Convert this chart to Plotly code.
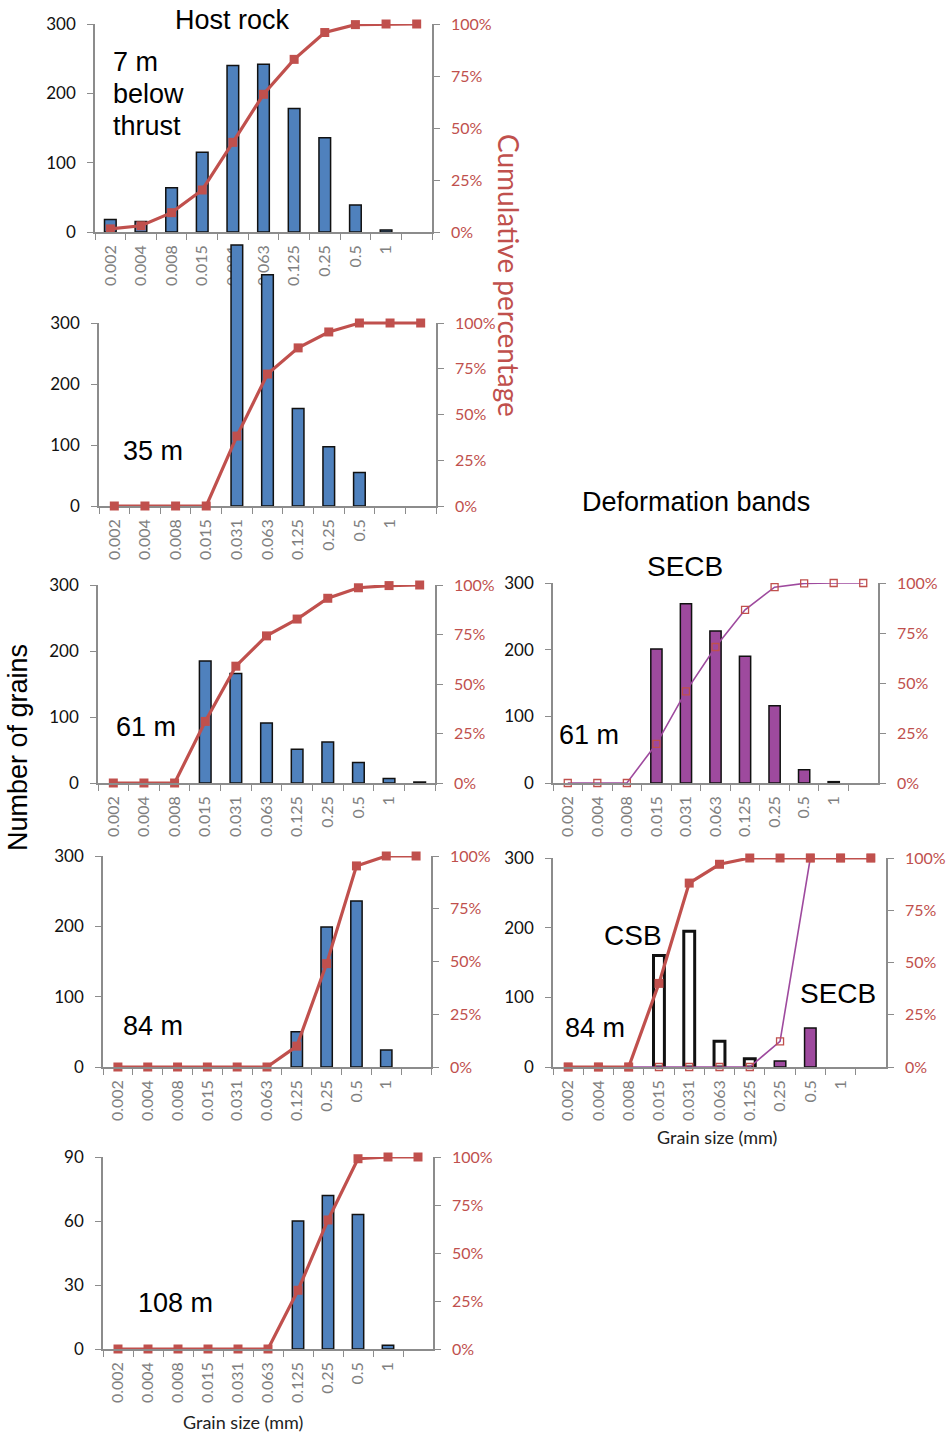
import plotly.graph_objects as go

W, H = 950, 1433

# ---------------- data ----------------
categories = ["0.002", "0.004", "0.008", "0.015", "0.031", "0.063",
              "0.125", "0.25", "0.5", "1", " "]

# Host rock: number of grains per size class
host_7m = [18, 15, 64, 115, 240, 242, 178, 136, 39, 3, None]
host_35m = [None, None, None, None, 428, 379, 160, 97, 55, None, None]
host_61m = [None, None, None, 185, 166, 91, 51, 62, 31, 7, 1.5]
host_84m = [None, None, None, None, None, None, 50, 199, 236, 24, None]
host_108m = [None, None, None, None, None, None, 60, 72, 63, 1.7, None]

# Host rock: cumulative percentage
host_7m_cum = [1.5, 3.0, 9.3, 20.2, 43.1, 66.2, 83.0, 95.9, 99.7, 100, 100]
host_35m_cum = [0, 0, 0, 0, 38.2, 72.1, 86.4, 95.1, 100, 100, 100]
host_61m_cum = [0, 0, 0, 31.1, 59.0, 74.3, 82.8, 93.3, 98.6, 99.7, 100]
host_84m_cum = [0, 0, 0, 0, 0, 0, 9.9, 49.0, 95.3, 100, 100]
host_108m_cum = [0, 0, 0, 0, 0, 0, 30.6, 67.2, 99.1, 100, 100]

# Deformation bands
secb_61m = [None, None, None, 201, 269, 228, 190, 116, 20, 2, None]
secb_61m_cum = [0, 0, 0, 19.6, 45.8, 68.0, 86.6, 97.9, 99.8, 100, 100]
csb_84m = [None, None, None, 160, 195, 37, 12, None, None, None, None]
csb_84m_cum = [0, 0, 0, 40, 88, 97, 100, 100, 100, 100, 100]
secb_84m = [None, None, None, None, None, None, None, 8.6, 56, None, None]
secb_84m_cum = [0, 0, 0, 0, 0, 0, 0, 12.3, 100, 100, 100]

pct_vals = [0, 25, 50, 75, 100]
pct_text = ["0%", "25%", "50%", "75%", "100%"]

# ---------------- style ----------------
BLUE = "#4F81BD"
PURPLE = "#9E4A9E"
RED = "#C0504D"
AXIS = "#8C8C8C"
XLAB = "#808080"
TXT_FONT = "Liberation Sans, Arial, sans-serif"
TICK_FONT = "Lato, Open Sans, sans-serif"

# panel plot areas in pixels: (left, right, top, bottom)
panels = [
    dict(box=(95, 432, 24, 232), ymax=300, dtick=100),
    dict(box=(99, 436, 323, 506), ymax=300, dtick=100),
    dict(box=(98, 435, 585, 783), ymax=300, dtick=100),
    dict(box=(553, 878, 583, 783), ymax=300, dtick=100),
    dict(box=(103, 431, 856, 1067), ymax=300, dtick=100),
    dict(box=(553, 886, 858, 1067), ymax=300, dtick=100),
    dict(box=(103, 433, 1157, 1349), ymax=90, dtick=30),
]

fig = go.Figure()
layout = {}


def axname(prefix, n):
    return prefix if n == 1 else f"{prefix}{n}"


for k, p in enumerate(panels, start=1):
    l, r, t, b = p["box"]
    xd = [l / W, r / W]
    yd = [1 - b / H, 1 - t / H]
    ya_n, yb_n = 2 * k - 1, 2 * k
    layout["xaxis" + ("" if k == 1 else str(k))] = dict(
        domain=xd, anchor=axname("y", ya_n), type="category",
        categoryorder="array", categoryarray=categories,
        range=[-0.5, 10.5], tickson="boundaries", ticks="outside",
        ticklen=6, tickwidth=1.3, tickcolor=AXIS, showline=True,
        linecolor=AXIS, linewidth=1.5, tickangle=-90, showgrid=False,
        tickfont=dict(family=TICK_FONT, size=16, color=XLAB),
        ticklabelstandoff=5, fixedrange=True, automargin=False,
    )
    layout["yaxis" + ("" if ya_n == 1 else str(ya_n))] = dict(
        domain=yd, anchor=axname("x", k), range=[0, p["ymax"]],
        dtick=p["dtick"], tick0=0, ticks="outside", ticklen=6,
        tickwidth=1.3, tickcolor=AXIS, showline=True, linecolor=AXIS,
        linewidth=1.5, showgrid=False, zeroline=False,
        tickfont=dict(family=TICK_FONT, size=17, color="#111111"),
        ticklabelstandoff=8, fixedrange=True, automargin=False,
    )
    layout["yaxis" + str(yb_n)] = dict(
        domain=yd, anchor=axname("x", k), overlaying=axname("y", ya_n),
        side="right", range=[0, 100], tickvals=pct_vals, ticktext=pct_text,
        ticks="outside", ticklen=6, tickwidth=1.3, tickcolor=AXIS,
        showline=True, linecolor=AXIS, linewidth=1.5, showgrid=False,
        zeroline=False,
        tickfont=dict(family=TICK_FONT, size=16, color=RED),
        ticklabelstandoff=8, fixedrange=True, automargin=False,
    )

# Panel 2's two tallest bars run past the top of its axis (as in the
# original figure): its bars and curve use hidden, taller scales with the
# same pixels-per-unit, so nothing is clipped at 300.
l2, r2, t2, b2 = panels[1]["box"]
ext_top = 236
stretch = (b2 - ext_top) / (b2 - t2)
layout["yaxis15"] = dict(
    domain=[1 - b2 / H, 1 - ext_top / H], anchor="x2",
    range=[0, 300 * stretch], visible=False,
    showgrid=False, zeroline=False, fixedrange=True,
)
layout["yaxis16"] = dict(
    overlaying="y15", anchor="x2", side="right",
    range=[0, 100 * stretch], visible=False,
    showgrid=False, zeroline=False, fixedrange=True,
)


def add_bar(k, vals, fill, lw=1.5, width=0.38, yaxis=None):
    fig.add_trace(go.Bar(
        x=categories, y=vals, xaxis=axname("x", k),
        yaxis=yaxis or axname("y", 2 * k - 1),
        width=width, marker=dict(color=fill, line=dict(color="#111111", width=lw)),
        showlegend=False, hoverinfo="skip",
    ))


def add_cum(k, vals, thin=False, yaxis=None):
    ya = yaxis or axname("y", 2 * k)
    if thin:
        fig.add_trace(go.Scatter(
            x=categories, y=vals, xaxis=axname("x", k), yaxis=ya,
            mode="lines+markers", line=dict(color=PURPLE, width=1.6),
            marker=dict(symbol="square-open", size=7, color=RED,
                        line=dict(color=RED, width=1.3)),
            cliponaxis=False, showlegend=False, hoverinfo="skip",
        ))
    else:
        fig.add_trace(go.Scatter(
            x=categories, y=vals, xaxis=axname("x", k), yaxis=ya,
            mode="lines+markers", line=dict(color=RED, width=3.2),
            marker=dict(symbol="square", size=9, color=RED),
            cliponaxis=False, showlegend=False, hoverinfo="skip",
        ))


def add_axes_holder(k, yaxis):
    # empty trace so the visible axes of panel k get their own subplot
    fig.add_trace(go.Scatter(
        x=[None], y=[None], xaxis=axname("x", k), yaxis=yaxis,
        mode="markers", showlegend=False, hoverinfo="skip",
    ))


add_bar(1, host_7m, BLUE); add_cum(1, host_7m_cum)
add_axes_holder(2, "y3"); add_axes_holder(2, "y4")
add_bar(2, host_35m, BLUE, yaxis="y15"); add_cum(2, host_35m_cum, yaxis="y16")
add_bar(3, host_61m, BLUE); add_cum(3, host_61m_cum)
add_bar(4, secb_61m, PURPLE); add_cum(4, secb_61m_cum, thin=True)
add_bar(5, host_84m, BLUE); add_cum(5, host_84m_cum)
add_bar(6, csb_84m, "white", lw=3, width=0.36)
add_bar(6, secb_84m, PURPLE, lw=1.5)
add_cum(6, secb_84m_cum, thin=True)
add_cum(6, csb_84m_cum)
add_bar(7, host_108m, BLUE); add_cum(7, host_108m_cum)


def ann(text, x, y, size=27, color="black", family=TXT_FONT, angle=0,
        xanchor="center", align="center"):
    return dict(text=text, x=x / W, y=1 - y / H, xref="paper", yref="paper",
                showarrow=False, xanchor=xanchor, yanchor="middle", align=align,
                textangle=angle, font=dict(family=family, size=size, color=color))


annotations = [
    ann("Host rock", 232, 20),
    ann("7 m", 111, 62, xanchor="left", align="left"),
    ann("below", 111, 94, xanchor="left", align="left"),
    ann("thrust", 111, 126, xanchor="left", align="left"),
    ann("35 m", 153, 451),
    ann("61 m", 146, 727),
    ann("61 m", 589, 735),
    ann("84 m", 153, 1026),
    ann("84 m", 595, 1028),
    ann("108 m", 175, 1303),
    ann("SECB", 685, 566, size=28),
    ann("CSB", 633, 935, size=28),
    ann("SECB", 838, 993, size=28),
    ann("Deformation bands", 696, 502, size=27),
    ann("Number of grains", 18, 748, size=27, angle=-90),
    ann("Cumulative percentage", 509, 276, size=28, color=RED,
        family=TICK_FONT, angle=90),
    ann("Grain size (mm)", 717, 1137, size=18, family=TICK_FONT, color="#222222"),
    ann("Grain size (mm)", 243, 1422, size=18, family=TICK_FONT, color="#222222"),
]

fig.update_layout(
    width=W, height=H,
    margin=dict(l=0, r=0, t=0, b=0, pad=0, autoexpand=False),
    paper_bgcolor="white", plot_bgcolor="rgba(0,0,0,0)",
    barmode="overlay", showlegend=False, annotations=annotations,
    **layout,
)

fig.write_html(
    "out.html",
    config={"displayModeBar": False},
    post_script="document.body.style.margin='0px';"
                "document.documentElement.style.overflow='hidden';",
)
